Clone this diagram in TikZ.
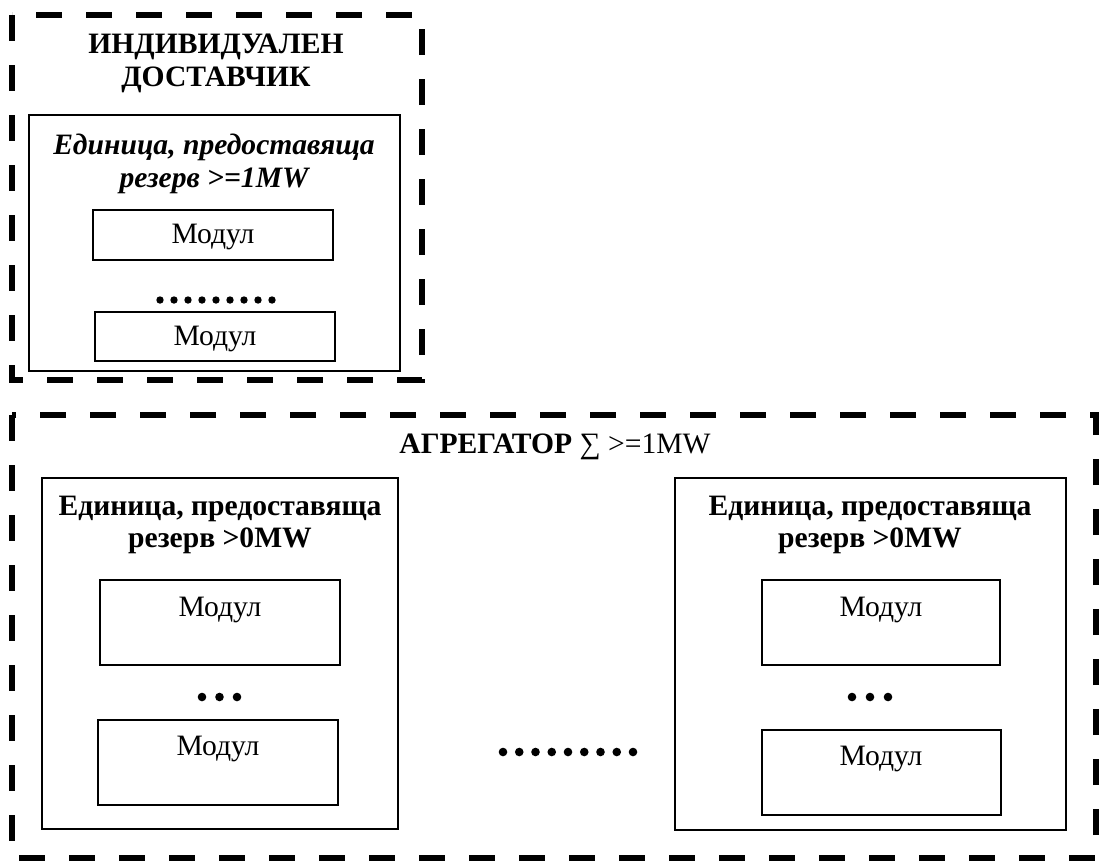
\documentclass[tikz,border=0pt]{standalone}
\usepackage{fontspec}
\setmainfont{Liberation Serif}
\usetikzlibrary{calc}
\tikzset{
	dashbox/.style={line width=2.6pt, dash pattern=on 13pt off 12pt},
	thinbox/.style={line width=0.8pt},
	txt/.style={inner sep=0pt, align=center, font=\fontsize{14.8}{16.4}\selectfont},
	hdr/.style={txt, font=\fontsize{14.8}{16.4}\selectfont\bfseries},
}

\begin{document}
\begin{tikzpicture}[x=0.5pt, y=-0.5pt]
				\useasboundingbox (0,0) rectangle (1102,863);
				
				\draw[dashbox] (12,15) rectangle (422,380);
				\node[hdr] (indiv) at (216,63) {ИНДИВИДУАЛЕН\\ДОСТАВЧИК};
				
				\draw[thinbox] (29,115) rectangle (400,371);
				\node[hdr, font=\fontsize{14.8}{16.4}\selectfont\bfseries\itshape] (unitA) at (214,164) {Единица, предоставяща\\резерв >=1MW};
				\draw[thinbox] (93,210) rectangle (333,260);
				\node[txt] (modA1) at (213,237) {Модул};
				\foreach \i in {0,...,8}
					\fill (160+\i*14,300) circle (3.7);
				\draw[thinbox] (95,312) rectangle (335,361);
				\node[txt] (modA2) at (215,339) {Модул};
				
				\draw[dashbox] (12,415) rectangle (1096,858);
				\node[txt] (aggr) at (555,447) {\textbf{АГРЕГАТОР} ∑ >=1MW};
				
				\draw[thinbox] (42,478) rectangle (398,829);
				\node[hdr] (unitB) at (220,525) {Единица, предоставяща\\резерв >0MW};
				\draw[thinbox] (100,580) rectangle (340,665);
				\node[txt] (modB1) at (220,610) {Модул};
				\foreach \i in {0,1,2}
					\fill (202+\i*17.5,697) circle (4.3);
				\draw[thinbox] (98,720) rectangle (338,805);
				\node[txt] (modB2) at (218,749) {Модул};
				
				\foreach \i in {0,...,8}
					\fill (503+\i*16.25,752) circle (4.3);
				
				\draw[thinbox] (675,478) rectangle (1066,830);
				\node[hdr] (unitC) at (870,525) {Единица, предоставяща\\резерв >0MW};
				\draw[thinbox] (762,580) rectangle (1000,665);
				\node[txt] (modC1) at (881,610) {Модул};
				\foreach \i in {0,1,2}
					\fill (852+\i*18,697) circle (4.3);
				\draw[thinbox] (762,730) rectangle (1001,815);
				\node[txt] (modC2) at (881,759) {Модул};
\end{tikzpicture}
\end{document}
